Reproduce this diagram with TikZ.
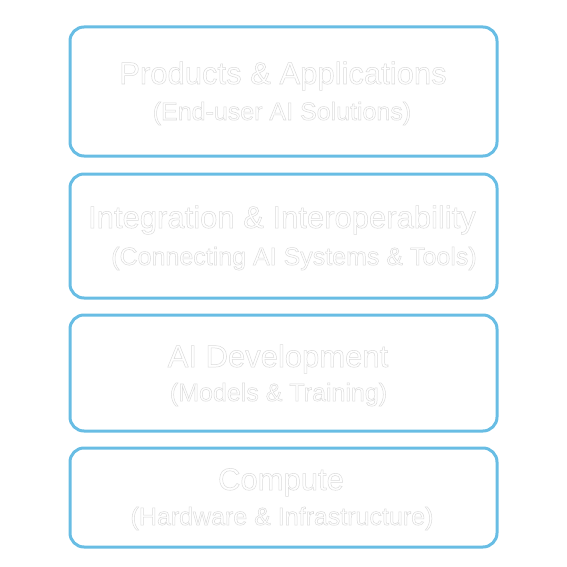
\documentclass[tikz,border=0pt]{standalone}
\usepackage{fontspec}
\setmainfont{Liberation Sans}
\usepackage{tikz}
\usetikzlibrary{positioning}
\definecolor{layerblue}{RGB}{104,189,228}
% white letters with a thin grey outline
\newcommand{\hollow}[1]{{\color{white}\special{pdf:literal direct 0.86 G 0.5 w 2 Tr}#1\special{pdf:literal direct 0 Tr}}}

\begin{document}
\begin{tikzpicture}[x=1pt,y=-1pt,
	layer/.style={draw=layerblue,line width=3pt,rounded corners=14pt,minimum width=427pt,inner sep=0pt},
	title/.style={anchor=base,font=\fontsize{31}{36}\selectfont,inner sep=0pt},
	subtitle/.style={anchor=base,font=\fontsize{25}{30}\selectfont,inner sep=0pt}]
	\useasboundingbox (0,0) rectangle (567,567);
	\node[layer,minimum height=129pt] (products) at (283.5,91.5) {};
	\node[layer,minimum height=124pt] (integration) at (283.5,236) {};
	\node[layer,minimum height=116pt] (development) at (283.5,373) {};
	\node[layer,minimum height=99pt] (compute) at (283.5,497.5) {};
	\node[title] (productsTitle) at (283,84) {\hollow{Products \& Applications}};
	\node[subtitle] (productsSub) at (282,120) {\hollow{(End-user AI Solutions)}};
	\node[title] (integrationTitle) at (282,228) {\hollow{Integration \& Interoperability}};
	\node[subtitle] (integrationSub) at (294,265) {\hollow{(Connecting AI Systems \& Tools)}};
	\node[title] (developmentTitle) at (278,367) {\hollow{AI Development}};
	\node[subtitle] (developmentSub) at (278.5,401) {\hollow{(Models \& Training)}};
	\node[title] (computeTitle) at (281,490) {\hollow{Compute}};
	\node[subtitle] (computeSub) at (282,525) {\hollow{(Hardware \& Infrastructure)}};
\end{tikzpicture}
\end{document}
